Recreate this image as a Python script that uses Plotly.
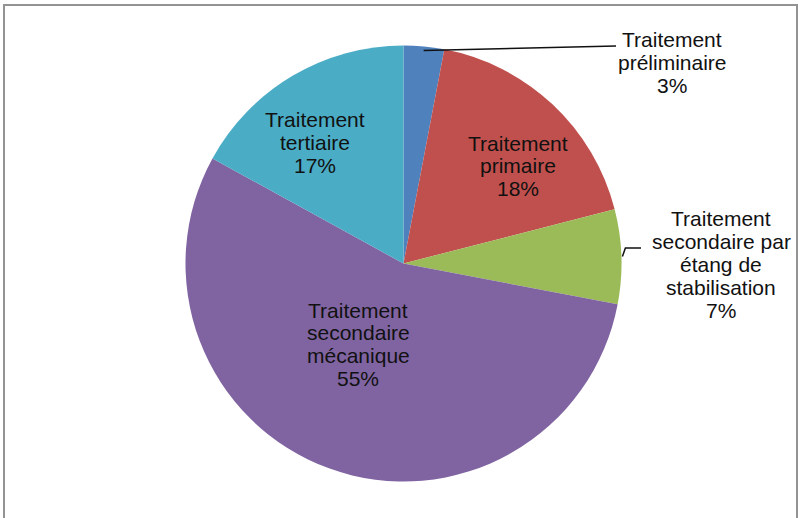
import math
import plotly.graph_objects as go

# Share of each treatment level (%)
categories = [
    "Traitement préliminaire",
    "Traitement primaire",
    "Traitement secondaire par étang de stabilisation",
    "Traitement secondaire mécanique",
    "Traitement tertiaire",
]
values = [3, 18, 7, 55, 17]
label_lines = [
    ["Traitement", "préliminaire"],
    ["Traitement", "primaire"],
    ["Traitement", "secondaire par", "étang de", "stabilisation"],
    ["Traitement", "secondaire", "mécanique"],
    ["Traitement", "tertiaire"],
]
colors = ["#4F81BD", "#C0504D", "#9BBB59", "#8064A2", "#4BACC6"]

W, H = 800, 518
CX, CY, R = 403.5, 263.5, 218  # pie centre / radius in pixels

def px(x):
    return x / W

def py(y):
    return 1 - y / H

fig = go.Figure(
    go.Pie(
        labels=categories,
        values=values,
        sort=False,
        direction="clockwise",
        rotation=0,
        marker=dict(colors=colors, line=dict(width=0)),
        textinfo="none",
        hoverinfo="label+percent",
        domain=dict(x=[px(CX - R), px(CX + R)], y=[py(CY + R), py(CY - R)]),
        showlegend=False,
    )
)

# Label anchor (centre x, centre y of first line), pixels
label_pos = [(672, 40), (518, 143), (721, 219), (358, 310), (315, 120)]
LINE_STEP = 22.8
FONT = dict(family="Liberation Sans, Arial, sans-serif", size=21, color="#111111")

annotations = []
for lines, v, (lx, ly) in zip(label_lines, values, label_pos):
    for i, txt in enumerate(lines + [f"{v}%"]):
        annotations.append(
            dict(
                x=px(lx), y=py(ly + i * LINE_STEP), xref="paper", yref="paper",
                text=txt, showarrow=False, xanchor="center", yanchor="middle",
                font=FONT,
            )
        )

# Leader lines for the two slices labelled outside the pie
total = sum(values)
def mid_angle(k):
    start = sum(values[:k]) / total * 2 * math.pi
    return start + values[k] / total * math.pi

def edge_point(k, r=R):
    a = mid_angle(k)
    return CX + r * math.sin(a), CY - r * math.cos(a)

shapes = []
x0, y0 = edge_point(0, R - 4)
shapes.append(dict(type="line", xref="paper", yref="paper",
                   x0=px(x0), y0=py(y0), x1=px(616), y1=py(46),
                   line=dict(color="#111111", width=1.5)))
x0, y0 = edge_point(2, R + 1)
shapes.append(dict(type="path", xref="paper", yref="paper",
                   path=f"M {px(x0)},{py(y0)} L {px(x0 + 3)},{py(248)} L {px(641)},{py(248)}",
                   line=dict(color="#111111", width=1.5)))

# Chart frame
shapes.append(dict(type="rect", xref="paper", yref="paper",
                   x0=px(4), y0=py(530), x1=px(797), y1=py(5),
                   line=dict(color="#939393", width=2), layer="below"))

fig.update_layout(
    width=W, height=H,
    margin=dict(l=0, r=0, t=0, b=0),
    paper_bgcolor="white", plot_bgcolor="white",
    annotations=annotations, shapes=shapes,
)

fig.write_html("out.html")
